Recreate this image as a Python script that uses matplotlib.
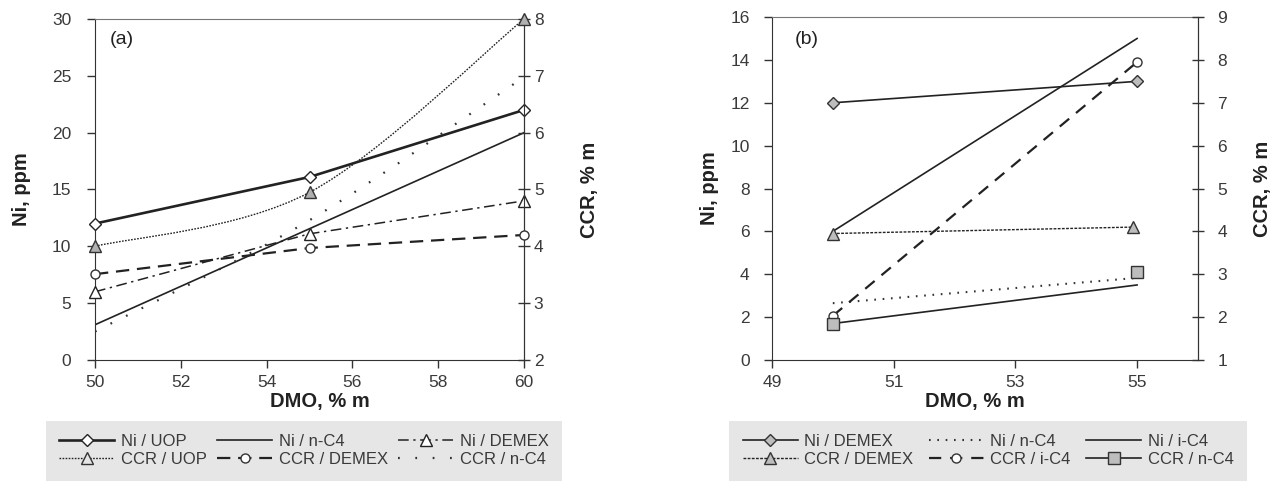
import numpy as np
import matplotlib
matplotlib.use("Agg")
import matplotlib.pyplot as plt
from matplotlib.lines import Line2D
from matplotlib.path import Path
from matplotlib.patches import PathPatch

# ---- panel (a) data: DMO, % m ----
dmo_a = [50, 55, 60]
ni_uop = [12.0, 16.1, 22.0]
ni_demex_a = [6.0, 11.1, 14.0]
dmo_nc4_a = [50, 60]
ni_nc4_a = [3.1, 20.0]
ccr_uop = [4.0, 4.95, 8.0]
ccr_demex_a = [3.51, 3.97, 4.2]
ccr_nc4_a = [2.5, 4.46, 6.98]

# ---- panel (b) data ----
dmo_b = [50, 55]
ni_demex_b = [12.0, 13.0]
ni_nc4_b = [2.65, 3.83]
ni_ic4_b = [6.0, 15.0]
dmo_ccr_demex_b = [50, 54.93]
ccr_demex_b = [3.95, 4.1]
ccr_ic4_b = [2.03, 7.95]
ccr_nc4_line_b = [1.85, 2.75]
ccr_nc4_marks_b = [1.85, 3.05]

TXT = "#3a3a3a"
plt.rcParams["font.family"] = ["Liberation Sans", "DejaVu Sans"]
plt.rcParams["font.size"] = 12


def smooth_path(xs, ys):
    """Excel-style smoothed line through the points (bezier)."""
    pts = np.column_stack([xs, ys]).astype(float)
    verts = [pts[0]]
    codes = [Path.MOVETO]
    n = len(pts)
    for i in range(n - 1):
        p0 = pts[max(i - 1, 0)]
        p1 = pts[i]
        p2 = pts[i + 1]
        p3 = pts[min(i + 2, n - 1)]
        verts += [p1 + (p2 - p0) / 6, p2 - (p3 - p1) / 6, p2]
        codes += [Path.CURVE4] * 3
    return Path(verts, codes)


def style_axes(ax, ax2, left_pad, right_pad):
    for s in ["left", "bottom", "right"]:
        ax.spines[s].set_color("#333333")
    ax.spines["top"].set_color("#777777")
    ax.tick_params(axis="y", direction="out", length=6, width=1, pad=left_pad,
                   colors="#333333", labelcolor=TXT, labelsize=12.5)
    ax.tick_params(axis="x", direction="out", length=6, width=1, pad=5,
                   colors="#333333", labelcolor=TXT, labelsize=12.5)
    ax2.tick_params(axis="y", direction="inout", length=8, width=1, pad=right_pad,
                    colors="#333333", labelcolor=TXT, labelsize=12.5)
    for s in ax2.spines.values():
        s.set_visible(False)
    ax2.spines["right"].set_visible(True)
    ax2.spines["right"].set_color("#333333")


fig = plt.figure(figsize=(12.77, 4.83), dpi=100)

# ================= panel (a) =================
ax = fig.add_axes([0.0744, 0.2547, 0.336, 0.706])
ax2 = ax.twinx()
ax.set_xlim(50, 60)
ax.set_ylim(0, 30)
ax2.set_ylim(2, 8)
ax.set_xticks(range(50, 61, 2))
ax.set_yticks(range(0, 31, 5))
ax2.set_yticks(range(2, 9))

ax.plot(dmo_a, ni_uop, color="#222222", lw=1.9, marker="D", ms=6.5,
        mfc="white", mec="#222222", mew=1, zorder=5, clip_on=False)
ax.plot(dmo_nc4_a, ni_nc4_a, color="#222222", lw=1.2)
ax.plot(dmo_a, ni_demex_a, color="#222222", lw=1.1, dashes=(7, 3, 1.5, 3),
        marker="^", ms=8, mfc="white", mec="#222222", mew=1, zorder=5, clip_on=False)

p = PathPatch(smooth_path(dmo_a, ccr_uop), fill=False, ec="#222222", lw=1.0,
              ls=(0, (1.2, 1.0)))
ax2.add_patch(p)
ax2.plot(dmo_a, ccr_uop, ls="none", marker="^", ms=8, mfc="#b0b0b0",
         mec="#333333", mew=1, zorder=5, clip_on=False)
ax2.plot(dmo_a, ccr_demex_a, color="#222222", lw=1.6, dashes=(6, 3.5),
         marker="o", ms=6.5, mfc="white", mec="#333333", mew=1, zorder=5, clip_on=False)
p = PathPatch(smooth_path(dmo_a, ccr_nc4_a), fill=False, ec="#333333", lw=1.6,
              ls=(0, (0.8, 7)))
ax2.add_patch(p)

style_axes(ax, ax2, left_pad=11, right_pad=3)
ax.text(0.035, 0.965, "(a)", transform=ax.transAxes, ha="left", va="top",
        fontsize=14, color="#222222")

lab = dict(fontsize=14.5, fontweight="bold", color="#222222")
ax.set_xlabel("DMO, % m", **lab)
ax.xaxis.set_label_coords(0.524, -0.093)
ax.set_ylabel("Ni, ppm", **lab)
ax.yaxis.set_label_coords(-0.15, 0.5)
ax2.set_ylabel("CCR, % m", **lab)
ax2.yaxis.set_label_coords(1.13, 0.5)

h_a = [
    Line2D([], [], color="#222222", lw=1.9, marker="D", ms=6.5, mfc="white", mec="#222222"),
    Line2D([], [], color="#222222", lw=1.0, ls=(0, (1.2, 1.0)), marker="^", ms=8,
           mfc="#e6e6e6", mec="#333333"),
    Line2D([], [], color="#222222", lw=1.2),
    Line2D([], [], color="#222222", lw=1.6, dashes=(6, 3.5), marker="o", ms=6.5,
           mfc="white", mec="#333333"),
    Line2D([], [], color="#222222", lw=1.1, dashes=(7, 3, 1.5, 3), marker="^", ms=8,
           mfc="white", mec="#222222"),
    Line2D([], [], color="#333333", lw=1.6, ls=(0, (0.8, 7))),
]
l_a = ["Ni / UOP", "CCR / UOP", "Ni / n-C4", "CCR / DEMEX", "Ni / DEMEX", "CCR / n-C4"]

# ================= panel (b) =================
bx = fig.add_axes([0.6045, 0.2547, 0.3336, 0.710])
bx2 = bx.twinx()
bx.set_xlim(49, 56)
bx.set_ylim(0, 16)
bx2.set_ylim(1, 9)
bx.set_xticks([49, 51, 53, 55])
bx.set_yticks(range(0, 17, 2))
bx2.set_yticks(range(1, 10))

bx.plot(dmo_b, ni_demex_b, color="#222222", lw=1.2, marker="D", ms=6.5,
        mfc="#bdbdbd", mec="#333333", mew=1, zorder=5)
bx.plot(dmo_b, ni_nc4_b, color="#333333", lw=1.5, ls=(0, (0.8, 3.2)))
bx.plot(dmo_b, ni_ic4_b, color="#222222", lw=1.2)
bx2.plot(dmo_ccr_demex_b, ccr_demex_b, color="#222222", lw=1.0, ls=(0, (2, 1)),
         marker="^", ms=8, mfc="#bdbdbd", mec="#333333", mew=1, zorder=5)
bx2.plot(dmo_b, ccr_ic4_b, color="#222222", lw=1.6, dashes=(5.5, 4),
         marker="o", ms=6.5, mfc="white", mec="#333333", mew=1, zorder=5)
bx2.plot(dmo_b, ccr_nc4_line_b, color="#222222", lw=1.2)
bx2.plot(dmo_b, ccr_nc4_marks_b, ls="none", marker="s", ms=8, mfc="#bdbdbd",
         mec="#333333", mew=1, zorder=5)

style_axes(bx, bx2, left_pad=10, right_pad=10)
bx.text(0.054, 0.96, "(b)", transform=bx.transAxes, ha="left", va="top",
        fontsize=14, color="#222222")
bx.set_xlabel("DMO, % m", **lab)
bx.xaxis.set_label_coords(0.476, -0.093)
bx.set_ylabel("Ni, ppm", **lab)
bx.yaxis.set_label_coords(-0.125, 0.5)
bx2.set_ylabel("CCR, % m", **lab)
bx2.yaxis.set_label_coords(1.13, 0.5)

h_b = [
    Line2D([], [], color="#222222", lw=1.2, marker="D", ms=6.5, mfc="#bdbdbd", mec="#333333"),
    Line2D([], [], color="#222222", lw=1.0, ls=(0, (2, 1)), marker="^", ms=8,
           mfc="#bdbdbd", mec="#333333"),
    Line2D([], [], color="#333333", lw=1.5, ls=(0, (0.8, 3.2))),
    Line2D([], [], color="#222222", lw=1.6, dashes=(5.5, 4), marker="o", ms=6.5,
           mfc="white", mec="#333333"),
    Line2D([], [], color="#222222", lw=1.2),
    Line2D([], [], color="#222222", lw=1.2, marker="s", ms=9, mfc="#bdbdbd", mec="#333333"),
]
l_b = ["Ni / DEMEX", "CCR / DEMEX", "Ni / n-C4", "CCR / i-C4", "Ni / i-C4", "CCR / n-C4"]

leg_kw = dict(loc="center", mode="expand", ncol=3, numpoints=1, fontsize=12,
              frameon=True, facecolor="#e6e6e6", edgecolor="none", fancybox=False,
              framealpha=1, borderaxespad=0, handlelength=3.3, handletextpad=0.4,
              labelspacing=0.2, columnspacing=0.9, borderpad=0.8, labelcolor=TXT)
fig.legend(h_a, l_a, bbox_to_anchor=(0.036, 0.002, 0.404, 0.13), **leg_kw)
fig.legend(h_b, l_b, bbox_to_anchor=(0.571, 0.002, 0.4055, 0.13), **leg_kw)

fig.savefig("out.png", dpi=100)
